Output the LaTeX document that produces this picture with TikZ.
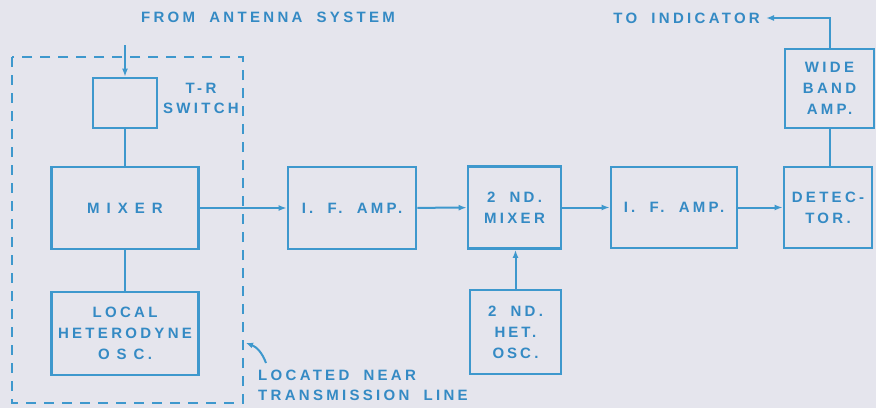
\documentclass[tikz,border=0pt]{standalone}
\usepackage{fontspec}
\setmainfont{Liberation Sans}[LetterSpace=22,WordSpace=1.9]
\usepackage{xcolor}
\usetikzlibrary{arrows.meta}
\definecolor{paper}{RGB}{229,229,237}
\definecolor{ink}{RGB}{62,152,205}
\definecolor{txt}{RGB}{52,138,196}
\newcommand{\lsp}{\hspace{7pt}}

\begin{document}
\begin{tikzpicture}[x=1pt,y=-1pt,
  blk/.style={draw=ink,line width=2.8pt,align=center,text=txt,inner sep=0pt,
              font=\bfseries\fontsize{15}{21}\selectfont},
  lbl/.style={text=txt,inner sep=0pt,font=\bfseries\fontsize{15}{20}\selectfont},
  wire/.style={draw=ink,line width=2pt},
  arr/.style={wire,-{Latex[length=8pt,width=6pt]}},
  encl/.style={draw=ink,line width=1.8pt,dash pattern=on 10pt off 8pt}]
  \useasboundingbox (0,0) rectangle (876,408);
  \fill[paper] (0,0) rectangle (876,408);
  % ---- near the transmission line
  \draw[encl] (12,57) rectangle (243,403);
  \node[lbl] (ant) at (268,17) {FROM ANTENNA SYSTEM};
  \coordinate (antin) at (125,45);
  \node[blk,minimum width=64pt,minimum height=50pt] (tr) at (125,103) {};
  \node[lbl,align=center] (trlab) at (201,98) {T-R\\SWITCH};
  \node[blk,minimum width=147pt,minimum height=82pt] (mix) at (125,208) {M\lsp I\lsp X\lsp E\lsp R};
  \node[blk,minimum width=147pt,minimum height=83pt] (lo) at (125,333.5) {LOCAL\\HETERODYNE\\O\lsp S\lsp C.};
  % ---- receiver chain
  \node[blk,minimum width=128pt,minimum height=82pt] (if1) at (352,208) {I. F. AMP.};
  \node[blk,minimum width=93pt,minimum height=82pt] (mix2) at (514.5,207.5) {2 ND.\\MIXER};
  \node[blk,minimum width=91pt,minimum height=84pt] (het) at (515.5,332) {2 ND.\\H\hspace{3pt}E\hspace{3pt}T.\\O\hspace{3pt}S\hspace{3pt}C.};
  \node[blk,minimum width=126pt,minimum height=81pt] (if2) at (674,207.5) {I. F. AMP.};
  \node[blk,minimum width=88pt,minimum height=81pt] (det) at (828,207.5) {DETEC-\\TOR.};
  \node[blk,minimum width=89pt,minimum height=79pt] (wide) at (829.5,88.5) {WIDE\\BAND\\AMP.};
  \coordinate (indout) at (766,18);
  \node[lbl,anchor=east] (ind) at (760,18) {TO INDICATOR};
  % ---- wires
  \draw[arr] (antin) -- (tr.north);
  \draw[wire] (tr.south) -- (mix.north);
  \draw[wire] (mix.south) -- (lo.north);
  \draw[arr] (mix) -- (if1); \draw[arr] (if1) -- (mix2);
  \draw[arr] (het.north) -- (het.north |- mix2.south);
  \draw[arr] (mix2) -- (if2); \draw[arr] (if2) -- (det);
  \draw[wire] (wide.south) -- (wide.south |- det.north);
  \draw[arr] (wide.north) |- (indout);
  % ---- note
  \node[lbl,anchor=west,align=left] (note) at (258,385) {LOCATED NEAR\\TRANSMISSION LINE};
  \coordinate (notea) at (266,363);
  \coordinate (noteb) at (246,343);
  \draw[wire,line width=2pt,-{Latex[length=7pt,width=6pt]}] (notea) to[bend right=25] (noteb);
\end{tikzpicture}
\end{document}
